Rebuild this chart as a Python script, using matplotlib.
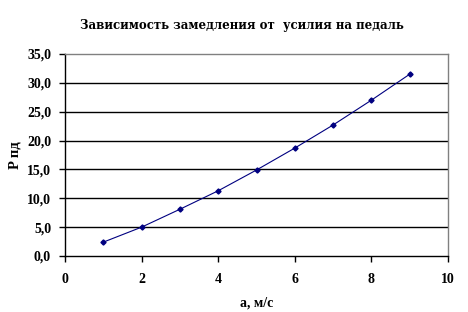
import matplotlib
matplotlib.use("Agg")
import matplotlib.pyplot as plt
from matplotlib.ticker import FuncFormatter

x_vals = [1, 2, 3, 4, 5, 6, 7, 8, 9]
p_vals = [2.4, 5.0, 8.1, 11.3, 14.9, 18.7, 22.7, 27.0, 31.5]
x_ticks = [0, 2, 4, 6, 8, 10]
y_ticks = [0, 5, 10, 15, 20, 25, 30, 35]

plt.rcParams['font.family'] = ['Liberation Serif', 'DejaVu Serif']
plt.rcParams['font.weight'] = 'bold'

fig = plt.figure(figsize=(4.68, 3.12), dpi=100)
ax = fig.add_axes([65/468, 1-256/312, (448-65)/468, (256-54)/312])

for y in y_ticks[1:-1]:
    ax.axhline(y, color='black', linewidth=1.0, zorder=1)

ax.plot(x_vals, p_vals, color='#000080', linewidth=0.8, marker='D', markersize=2.6, zorder=3)

ax.set_xlim(0, 10)
ax.set_ylim(0, 35)
ax.set_xticks(x_ticks)
ax.set_yticks(y_ticks)
ax.yaxis.set_major_formatter(FuncFormatter(lambda v, p: f"{v:.1f}".replace('.', ',')))
ax.xaxis.set_major_formatter(FuncFormatter(lambda v, p: f"{int(v)}"))
ax.tick_params(axis='both', direction='out', length=4, width=1, colors='black', labelsize=10)
ax.tick_params(axis='x', pad=8)
ax.tick_params(axis='y', pad=6)

for s in ['left', 'bottom']:
    ax.spines[s].set_color('black')
    ax.spines[s].set_linewidth(1.0)
for s in ['top', 'right']:
    ax.spines[s].set_color('#808080')
    ax.spines[s].set_linewidth(1.0)

ax.set_xlabel('a, м/с', fontsize=10, fontweight='bold', labelpad=8)
ax.set_ylabel('P пд', fontsize=10.5, fontweight='bold', labelpad=4)
fig.text(242/468, 1-26/312, 'Зависимость замедления от  усилия на педаль', ha='center', va='center',
         fontsize=8.5, fontweight='bold', family=['DejaVu Serif'])

fig.savefig('out.png', dpi=100)
